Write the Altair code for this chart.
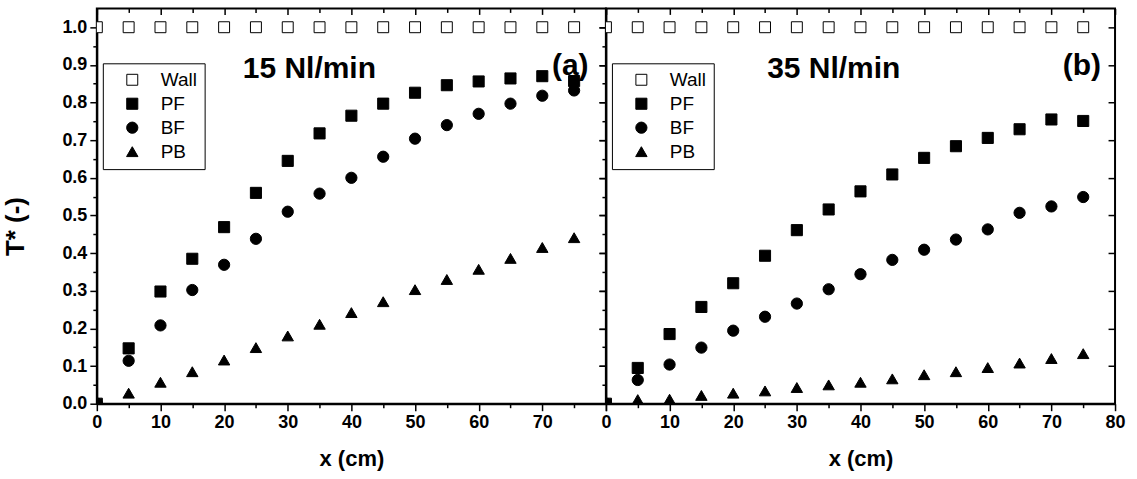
import altair as alt
import pandas as pd

# ---------------- data ----------------
x_cm = [0, 5, 10, 15, 20, 25, 30, 35, 40, 45, 50, 55, 60, 65, 70, 75]
series_names = ["Wall", "PF", "BF", "PB"]

wall_a = [1.0, 1.0, 1.0, 1.0, 1.0, 1.0, 1.0, 1.0, 1.0, 1.0, 1.0, 1.0, 1.0, 1.0, 1.0, 1.0]
pf_a = [0.0, 0.147, 0.298, 0.385, 0.469, 0.560, 0.645, 0.718, 0.765, 0.797, 0.826, 0.846, 0.856, 0.864, 0.870, 0.857]
bf_a = [0.0, 0.114, 0.208, 0.302, 0.369, 0.438, 0.510, 0.558, 0.600, 0.656, 0.704, 0.740, 0.770, 0.797, 0.818, 0.832]
pb_a = [0.0, 0.028, 0.057, 0.085, 0.116, 0.149, 0.180, 0.211, 0.242, 0.271, 0.303, 0.330, 0.357, 0.386, 0.415, 0.441]

wall_b = [1.0, 1.0, 1.0, 1.0, 1.0, 1.0, 1.0, 1.0, 1.0, 1.0, 1.0, 1.0, 1.0, 1.0, 1.0, 1.0]
pf_b = [0.0, 0.095, 0.185, 0.257, 0.320, 0.393, 0.461, 0.516, 0.564, 0.609, 0.653, 0.684, 0.706, 0.729, 0.755, 0.751]
bf_b = [0.0, 0.063, 0.104, 0.149, 0.194, 0.231, 0.266, 0.304, 0.344, 0.382, 0.409, 0.436, 0.463, 0.507, 0.524, 0.549]
pb_b = [0.0, 0.011, 0.012, 0.022, 0.028, 0.034, 0.043, 0.050, 0.057, 0.066, 0.077, 0.085, 0.096, 0.108, 0.120, 0.133]

x_ticks = [0, 5, 10, 15, 20, 25, 30, 35, 40, 45, 50, 55, 60, 65, 70, 75, 80]
y_ticks = [0.0, 0.05, 0.1, 0.15, 0.2, 0.25, 0.3, 0.35, 0.4, 0.45, 0.5,
           0.55, 0.6, 0.65, 0.7, 0.75, 0.8, 0.85, 0.9, 0.95, 1.0]
y_major = [0.0, 0.1, 0.2, 0.3, 0.4, 0.5, 0.6, 0.7, 0.8, 0.9, 1.0]

panel_a_texts = ["15 Nl/min", "(a)"]
panel_b_texts = ["35 Nl/min", "(b)"]

# ---------------- styling ----------------
FONT = "Liberation Sans"
W, H = 510, 396
X_DOMAIN = [0, 80]
Y_DOMAIN = [0, 1.05]

MAJOR_X = "datum.value % 10 === 0"
MAJOR_Y = "round(datum.value * 100) % 10 === 0"


def tick_dash(test):
    return {"condition": {"test": test, "value": []}, "value": [4, 100]}


def make_df(wall, pf, bf, pb):
    rows = []
    for name, vals in zip(series_names, [wall, pf, bf, pb]):
        for xv, tv in zip(x_cm, vals):
            rows.append({"x": xv, "T": tv, "series": name})
    return pd.DataFrame(rows)


def panel(df, texts, text_pos, left_labels, x_label_expr):
    xs = alt.Scale(domain=X_DOMAIN, nice=False, zero=False)
    ys = alt.Scale(domain=Y_DOMAIN, nice=False, zero=False)

    legend = alt.Legend(
        title=None, orient="none", legendX=6, legendY=55,
        padding=7, strokeColor="black", fillColor="white",
        cornerRadius=0, rowPadding=4, labelFont=FONT, labelFontSize=19,
        labelFontWeight="normal", labelColor="black", labelOffset=19,
        symbolOffset=13, symbolStrokeColor="black", symbolStrokeWidth=1,
    )

    x_axis = alt.Axis(
        orient="bottom", values=x_ticks, tickSize=7, tickDash=tick_dash(MAJOR_X),
        labelExpr=x_label_expr, labelOverlap=False, labelFlush=False,
        title="x (cm)", titlePadding=17, grid=False,
    )
    y_axis = alt.Axis(
        orient="left", values=y_ticks, tickSize=7, tickDash=tick_dash(MAJOR_Y),
        labels=left_labels,
        labelExpr=(MAJOR_Y + " ? format(datum.value, '.1f') : ''"),
        labelOverlap=False, labelFlush=False,
        title=("T* (-)" if left_labels else None), titlePadding=33, titleY=218,
        titleFontSize=26, grid=False,
    )

    points = alt.Chart(df).mark_point(
        filled=True, strokeWidth=1, opacity=1, clip=True
    ).encode(
        x=alt.X("x:Q", scale=xs, axis=x_axis),
        y=alt.Y("T:Q", scale=ys, axis=y_axis),
        shape=alt.Shape("series:N", scale=alt.Scale(
            domain=series_names, range=["square", "square", "circle", "triangle-up"]), legend=legend),
        fill=alt.Fill("series:N", scale=alt.Scale(
            domain=series_names, range=["white", "black", "black", "black"]), legend=legend),
        stroke=alt.Stroke("series:N", scale=alt.Scale(
            domain=series_names, range=["black", "black", "black", "black"]), legend=legend),
        size=alt.Size("series:N", scale=alt.Scale(
            domain=series_names, range=[120, 130, 160, 240]), legend=legend),
        order=alt.Order("ord:Q"),
    ).transform_calculate(
        ord="indexof(['Wall','PF','BF','PB'], datum.series)"
    )

    # inward ticks on the top and right edges
    top_axis = alt.Axis(
        orient="bottom", offset=-H, values=x_ticks, tickSize=6, tickDash=tick_dash(MAJOR_X),
        labels=False, domain=False, title=None, grid=False,
    )
    right_axis = alt.Axis(
        orient="left", offset=-W, values=y_major, tickSize=7,
        labels=False, domain=False, title=None, grid=False,
    )
    frame_axes = alt.Chart(df).mark_point(opacity=0).encode(
        x=alt.X("x:Q", scale=xs, axis=top_axis),
        y=alt.Y("T:Q", scale=ys, axis=right_axis),
    )

    tdf = pd.DataFrame({"x": text_pos[0], "T": text_pos[1], "label": texts})
    labels = alt.Chart(tdf).mark_text(
        font=FONT, fontSize=30, fontWeight="bold", color="black",
        align="center", baseline="alphabetic",
    ).encode(
        x=alt.X("x:Q", scale=xs, axis=None),
        y=alt.Y("T:Q", scale=ys, axis=None),
        text="label:N",
    )

    return alt.layer(points, frame_axes, labels).resolve_axis(
        x="independent", y="independent"
    ).properties(width=W, height=H)


left = panel(make_df(wall_a, pf_a, bf_a, pb_a), panel_a_texts,
             ([33.4, 74.4], [0.865, 0.873]), True,
             "datum.value % 10 === 0 && datum.value < 80 ? datum.label : ''")
right = panel(make_df(wall_b, pf_b, bf_b, pb_b), panel_b_texts,
              ([35.8, 74.8], [0.865, 0.873]), False,
              "datum.value % 10 === 0 ? datum.label : ''")

chart = alt.hconcat(left, right, spacing=0, bounds="flush").resolve_legend(
    shape="independent", fill="independent", size="independent", stroke="independent"
).properties(
    padding={"left": 1, "top": 6, "right": 10, "bottom": 4},
    background="white",
).configure_view(
    stroke="black", strokeWidth=2
).configure_legend(
    strokeWidth=1
).configure_axis(
    labelFont=FONT, labelFontSize=18, labelFontWeight="bold", labelColor="black",
    labelPadding=3, titleFont=FONT, titleFontSize=22, titleFontWeight="bold",
    titleColor="black", domainColor="black", domainWidth=2, tickColor="black",
    tickWidth=1.5,
)

chart.save("out.html", embed_options={"renderer": "svg", "actions": False})
